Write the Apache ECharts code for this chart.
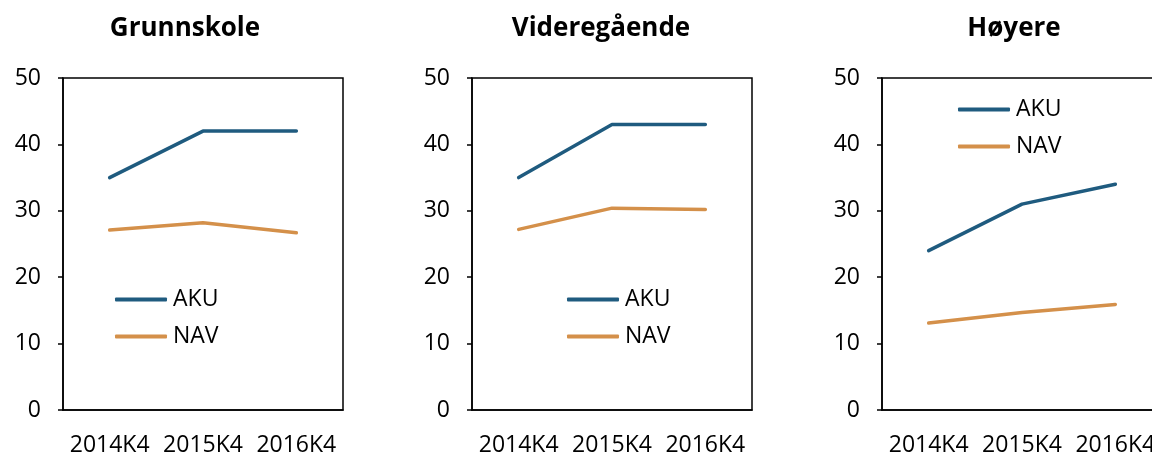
<!DOCTYPE html>
<html>
<head>
<meta charset="utf-8">
<script src="https://cdn.jsdelivr.net/npm/echarts@6/dist/echarts.min.js"></script>
<style>html,body{margin:0;padding:0;background:#fff}#c{width:1152px;height:454px}</style>
</head>
<body>
<div id="c"></div>
<script>
const categories = ['2014K4', '2015K4', '2016K4'];
const panelTitles = ['Grunnskole', 'Videregående', 'Høyere'];
const akuGrunnskole = [35.0, 42.0, 42.0];
const navGrunnskole = [27.1, 28.2, 26.7];
const akuVideregaende = [35.0, 43.0, 43.0];
const navVideregaende = [27.2, 30.4, 30.2];
const akuHoyere = [24.0, 31.0, 34.0];
const navHoyere = [13.1, 14.7, 15.9];
const yTicks = [0, 10, 20, 30, 40, 50];

const akuData = [akuGrunnskole, akuVideregaende, akuHoyere];
const navData = [navGrunnskole, navVideregaende, navHoyere];

const FONT = 'Open Sans';
const BLUE = '#1F5B7F';
const ORANGE = '#D4904A';
const gridLefts = [63, 472, 882];
const titleCenters = [180, 596, 1009];
const legendPos = [[115, 288], [567, 288], [958, 98]];

const grids = [], xAxes = [], yAxes = [], series = [], titles = [], legends = [];
for (let i = 0; i < 3; i++) {
  grids.push({left: gridLefts[i], width: 280, top: 78, bottom: 44, outerBoundsMode: 'none', containLabel: false,
    show: true, borderColor: '#000', borderWidth: 1.5, backgroundColor: 'transparent'});
  xAxes.push({
    type: 'category', gridIndex: i, data: categories, boundaryGap: true,
    axisLine: {lineStyle: {color: '#000', width: 1.5}},
    axisTick: {inside: true, length: 8, lineStyle: {color: '#000', width: 1.5}},
    axisLabel: {color: '#000', fontFamily: FONT, fontSize: 23, margin: 24, interval: 0, hideOverlap: false}
  });
  yAxes.push({
    type: 'value', gridIndex: i, min: yTicks[0], max: yTicks[yTicks.length - 1], interval: 10,
    splitLine: {show: false},
    axisLine: {show: true, lineStyle: {color: '#000', width: 1.5}},
    axisTick: {show: true, length: 5, lineStyle: {color: '#000', width: 1.5}},
    axisLabel: {color: '#000', fontFamily: FONT, fontSize: 23, margin: 22}
  });
  series.push({name: 'AKU', type: 'line', xAxisIndex: i, yAxisIndex: i, data: akuData[i], symbol: 'none',
    lineStyle: {color: BLUE, width: 3.5, cap: 'round', join: 'round'}, itemStyle: {color: BLUE}});
  series.push({name: 'NAV', type: 'line', xAxisIndex: i, yAxisIndex: i, data: navData[i], symbol: 'none',
    lineStyle: {color: ORANGE, width: 3.5, cap: 'round', join: 'round'}, itemStyle: {color: ORANGE}});
  titles.push({text: panelTitles[i], left: titleCenters[i], top: 11, textAlign: 'center',
    textStyle: {fontFamily: FONT, fontSize: 26, fontWeight: 'bold', color: '#000'}});
  legends.push({data: ['AKU', 'NAV'], orient: 'vertical', left: legendPos[i][0], top: legendPos[i][1],
    icon: 'roundRect', itemWidth: 52, itemHeight: 4, itemGap: 14, padding: 0, selectedMode: false,
    itemStyle: {borderWidth: 0},
    textStyle: {fontFamily: FONT, fontSize: 23, color: '#000', padding: [0, 0, 0, 1]}});
}

const chart = echarts.init(document.getElementById('c'));
chart.setOption({
  animation: false,
  backgroundColor: '#fff',
  title: titles,
  legend: legends,
  grid: grids,
  xAxis: xAxes,
  yAxis: yAxes,
  series: series
});
</script>
</body>
</html>
